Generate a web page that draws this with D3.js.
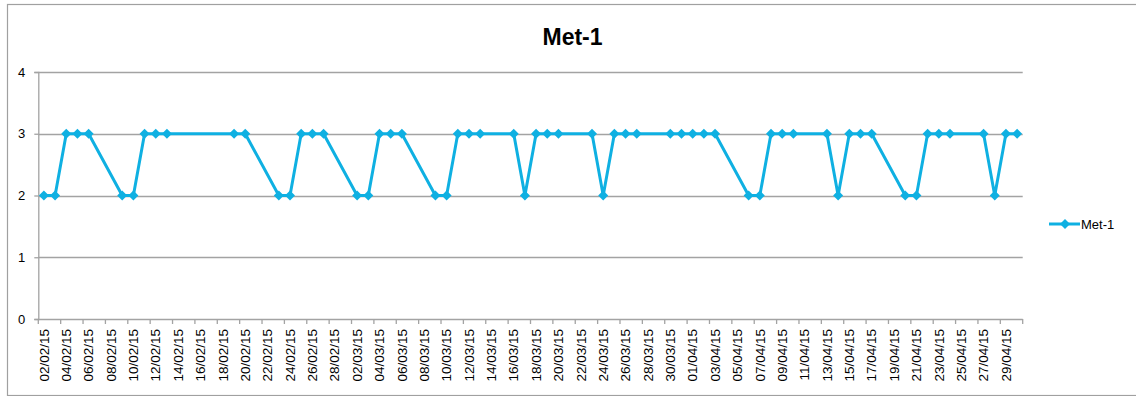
<!DOCTYPE html>
<html>
<head>
<meta charset="utf-8">
<script src="https://cdn.jsdelivr.net/npm/d3@7"></script>
<style>
  html, body { margin: 0; padding: 0; background: #fff; }
  svg { display: block; font-family: "Liberation Sans", Arial, sans-serif; }
</style>
</head>
<body>
<svg id="chart" width="1136" height="396"></svg>
<script>
// Axis range (daily date axis) and the observed readings
const axisStart = "02/02/15";
const axisEnd = "30/04/15";

const dates = [
  "02/02/15","03/02/15","04/02/15","05/02/15","06/02/15",
  "09/02/15","10/02/15","11/02/15","12/02/15","13/02/15",
  "19/02/15","20/02/15",
  "23/02/15","24/02/15","25/02/15","26/02/15","27/02/15",
  "02/03/15","03/03/15","04/03/15","05/03/15","06/03/15",
  "09/03/15","10/03/15","11/03/15","12/03/15","13/03/15",
  "16/03/15","17/03/15","18/03/15","19/03/15","20/03/15",
  "23/03/15","24/03/15","25/03/15","26/03/15","27/03/15",
  "30/03/15","31/03/15","01/04/15","02/04/15","03/04/15",
  "06/04/15","07/04/15","08/04/15","09/04/15","10/04/15",
  "13/04/15","14/04/15","15/04/15","16/04/15","17/04/15",
  "20/04/15","21/04/15","22/04/15","23/04/15","24/04/15",
  "27/04/15","28/04/15","29/04/15","30/04/15"
];

const met1 = [
  2,2,3,3,3,
  2,2,3,3,3,
  3,3,
  2,2,3,3,3,
  2,2,3,3,3,
  2,2,3,3,3,
  3,2,3,3,3,
  3,2,3,3,3,
  3,3,3,3,3,
  2,2,3,3,3,
  3,2,3,3,3,
  2,2,3,3,3,
  3,2,3,3
];

const yTicks = [0, 1, 2, 3, 4];
const seriesName = "Met-1";
const chartTitle = "Met-1";

const parse = d3.timeParse("%d/%m/%y");
const fmt = d3.timeFormat("%d/%m/%y");

const color = "#0fb0e2";
const gridColor = "#a3a3a3";

const svg = d3.select("#chart");

// outer chart frame
svg.append("rect")
  .attr("x", 7.5).attr("y", 4.5)
  .attr("width", 1140).attr("height", 391)
  .attr("fill", "#fff")
  .attr("stroke", "#a0a0a0").attr("stroke-width", 1.2);

// every calendar day on the axis gets its own slot
const days = d3.timeDay.range(parse(axisStart), d3.timeDay.offset(parse(axisEnd), 1));
const dayKeys = days.map(fmt);

const x = d3.scaleBand().domain(dayKeys).range([38.3, 1022.7]).padding(0);
const y = d3.scaleLinear().domain([0, 4]).range([319, 72]);

// horizontal gridlines
svg.append("g")
  .selectAll("line")
  .data(yTicks.filter(t => t > 0))
  .join("line")
  .attr("x1", x.range()[0]).attr("x2", x.range()[1])
  .attr("y1", d => Math.round(y(d)) + 0.5).attr("y2", d => Math.round(y(d)) + 0.5)
  .attr("stroke", gridColor).attr("stroke-width", 1.3);

// y axis
const yAxis = svg.append("g")
  .attr("transform", `translate(${x.range()[0]},0)`)
  .call(d3.axisLeft(y).tickValues(yTicks).tickSize(4).tickPadding(9).tickFormat(d3.format("d")));
yAxis.select(".domain").attr("stroke", gridColor).attr("stroke-width", 1.3);
yAxis.selectAll(".tick line").attr("stroke", gridColor).attr("stroke-width", 1.3);
yAxis.selectAll("text").attr("font-size", 13).attr("fill", "#000")
  .attr("font-family", "Liberation Sans, Arial, sans-serif");

// x axis: tick marks every two days at slot edges, labels centred on the day
const xAxisG = svg.append("g").attr("transform", `translate(0,${y(0)})`);
xAxisG.append("line")
  .attr("x1", x.range()[0]).attr("x2", x.range()[1])
  .attr("y1", 0.5).attr("y2", 0.5)
  .attr("stroke", gridColor).attr("stroke-width", 1.3);

const tickKeys = dayKeys.filter((d, i) => i % 2 === 0);
const tickPositions = tickKeys.map(k => x(k)).concat([x.range()[1]]);
xAxisG.selectAll("line.tk")
  .data(tickPositions)
  .join("line")
  .attr("class", "tk")
  .attr("x1", d => d).attr("x2", d => d)
  .attr("y1", 0).attr("y2", 5)
  .attr("stroke", gridColor).attr("stroke-width", 1.3);

xAxisG.selectAll("text")
  .data(tickKeys)
  .join("text")
  .attr("transform", d => `translate(${x(d) + x.bandwidth() / 2},10) rotate(-90)`)
  .attr("text-anchor", "end")
  .attr("dy", "0.35em")
  .attr("font-size", 13.5)
  .attr("fill", "#000")
  .text(d => d);

// series
const points = dates.map((d, i) => ({ key: d, value: met1[i] }));
const cx = d => x(d.key) + x.bandwidth() / 2;

svg.append("path")
  .datum(points)
  .attr("fill", "none")
  .attr("stroke", color)
  .attr("stroke-width", 3)
  .attr("stroke-linejoin", "round")
  .attr("d", d3.line().x(cx).y(d => y(d.value)));

// square markers turned 45° give an even diamond
const diamond = d3.symbol().type(d3.symbolSquare).size(50);
svg.append("g")
  .selectAll("path")
  .data(points)
  .join("path")
  .attr("transform", d => `translate(${cx(d)},${y(d.value)}) rotate(45)`)
  .attr("d", diamond)
  .attr("fill", color);

// title
svg.append("text")
  .attr("x", 572.5).attr("y", 45)
  .attr("text-anchor", "middle")
  .attr("font-size", 23)
  .attr("font-weight", "bold")
  .attr("fill", "#000")
  .text(chartTitle);

// legend
const lg = svg.append("g").attr("transform", "translate(1049,224)");
lg.append("line").attr("x1", 0).attr("x2", 31).attr("y1", 0).attr("y2", 0)
  .attr("stroke", color).attr("stroke-width", 3);
lg.append("path").attr("transform", "translate(16,0) rotate(45)").attr("d", diamond).attr("fill", color);
lg.append("text").attr("x", 32).attr("y", 0).attr("dy", "0.35em")
  .attr("font-size", 13).attr("fill", "#000").text(seriesName);
</script>
</body>
</html>
